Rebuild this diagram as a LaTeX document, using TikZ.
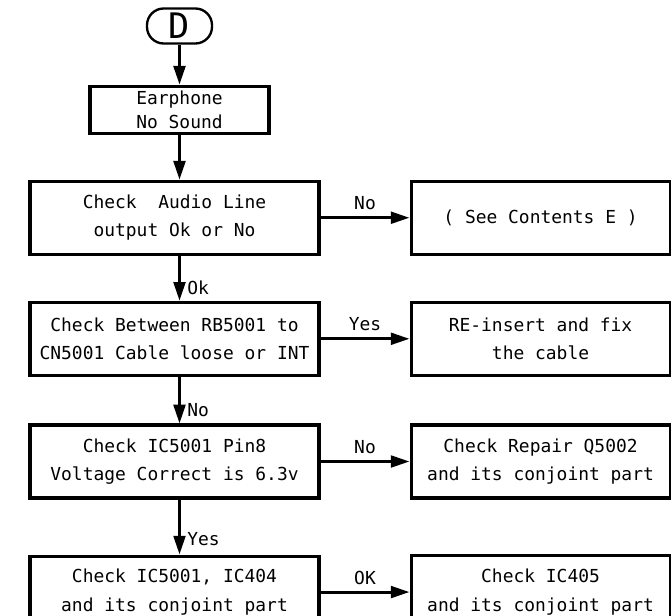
\documentclass[tikz,border=0pt]{standalone}
\usepackage{fontspec}
\setmonofont{DejaVu Sans Mono}
\usepackage{tikz}
\usetikzlibrary{arrows.meta, positioning}
\newcommand{\flowfont}{\ttfamily\fontsize{15.3}{24}\selectfont}
\tikzset{
    terminal/.style={rectangle, rounded corners=0.5cm, draw, line width=2pt, minimum width=1.95cm, minimum height=1.05cm, inner sep=0pt, font=\ttfamily\fontsize{30}{30}\selectfont},
    checkbox/.style={rectangle, draw, line width=2.6pt, minimum width=8.67cm, minimum height=2.19cm, align=center, font=\flowfont},
    actionbox/.style={checkbox, minimum width=7.77cm},
    arrow/.style={-{Triangle[length=16pt, width=10pt]}, line width=2.6pt},
    lbl/.style={font=\flowfont}
}
\begin{document}
\begin{tikzpicture}
            \useasboundingbox (0,0) rectangle (20.13,-18.45);
            \node (start) [terminal] at (5.385,-0.78) {D};
            \node (sound) [checkbox, minimum width=5.37cm, minimum height=1.41cm, below=1.2cm of start, font=\ttfamily\fontsize{15.3}{21}\selectfont] {Earphone\\No Sound};
            \node (audio) [checkbox, below=1.35cm of sound, xshift=-0.15cm] {Check\ \ Audio Line\\output Ok or No};
            \node (cable) [checkbox, below=1.35cm of audio] {Check Between RB5001 to\\CN5001 Cable loose or INT};
            \node (pin) [checkbox, below=1.4cm of cable] {Check IC5001 Pin8\\Voltage Correct is 6.3v};
            \node (ic) [checkbox, minimum height=2.16cm, below=1.65cm of pin] {Check IC5001, IC404\\and its conjoint part};
            \node (seee) [actionbox, right=2.67cm of audio] {( See Contents E )};
            \node (reinsert) [actionbox, right=2.67cm of cable] {RE-insert and fix\\the cable};
            \node (repair) [actionbox, right=2.67cm of pin] {Check Repair Q5002\\and its conjoint part};
            \node (icfive) [actionbox, right=2.67cm of ic] {Check IC405\\and its conjoint part};
            
            \draw[arrow] (start) -- (sound);
            \draw[arrow] (sound) -- (audio.north -| sound);
            \draw[arrow] (audio.south -| sound) -- node[lbl, pos=0.72, right=2pt] {Ok} (cable.north -| sound);
            \draw[arrow] (cable.south -| sound) -- node[lbl, pos=0.72, right=2pt] {No} (pin.north -| sound);
            \draw[arrow] (pin.south -| sound) -- node[lbl, pos=0.72, right=2pt] {Yes} (ic.north -| sound);
            \draw[arrow] (audio) -- node[lbl, above=2pt] {No} (seee);
            \draw[arrow] (cable) -- node[lbl, above=2pt] {Yes} (reinsert);
            \draw[arrow] (pin) -- node[lbl, above=2pt] {No} (repair);
            \draw[arrow] (ic) -- node[lbl, above=2pt] {OK} (icfive);
        \end{tikzpicture}
\end{document}
